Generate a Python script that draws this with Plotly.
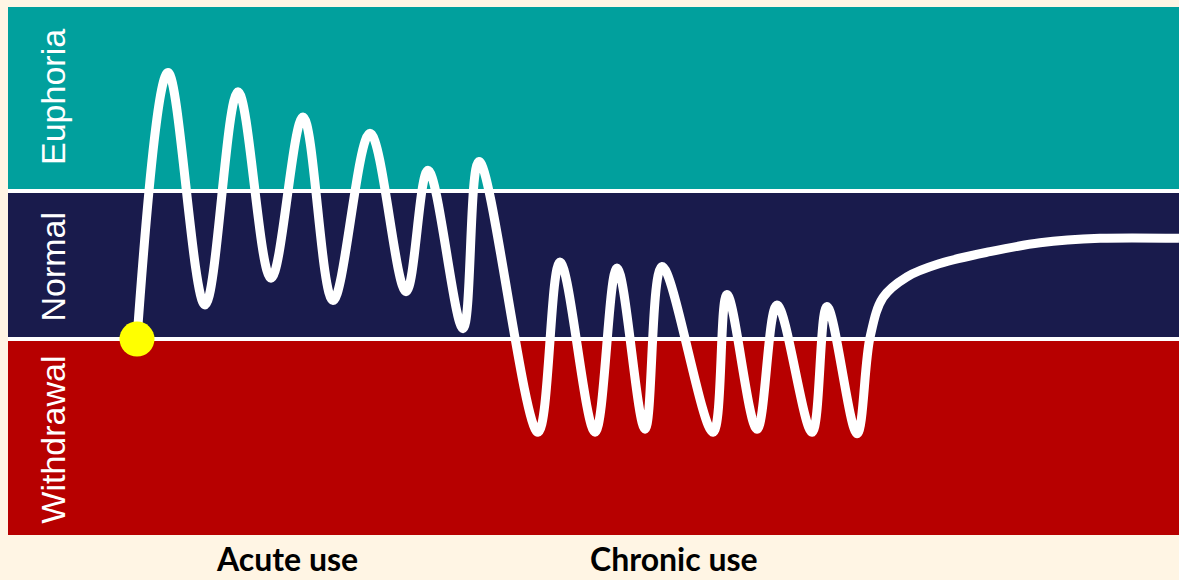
import plotly.graph_objects as go

# Time (arbitrary units) and mood level (0 = normal baseline, 1 = euphoria threshold)
time = [129, 160, 197, 230, 263, 295, 325, 362, 398, 420, 455, 471,
        530, 552, 587, 609, 637, 654, 705, 719, 749, 769, 804, 819, 849,
        862, 875, 899, 932, 982, 1032, 1092, 1171]
mood = [0.0, 1.80, 0.23, 1.67, 0.41, 1.50, 0.26, 1.39, 0.32, 1.14, 0.07, 1.20,
        -0.63, 0.52, -0.63, 0.48, -0.61, 0.49, -0.63, 0.30, -0.61, 0.23, -0.63, 0.22, -0.64,
        0.01, 0.28, 0.42, 0.51, 0.59, 0.65, 0.68, 0.68]

start_time = [129]
start_mood = [0.0]

zones = ["Euphoria", "Normal", "Withdrawal"]
zone_bounds = [(1.0, 2.243), (0.0, 1.0), (-1.324, 0.0)]
zone_colors = ["#01A09D", "#191B4C", "#B70000"]
zone_label_mood = [1.635, 0.49, -0.68]

phases = ["Acute use", "Chronic use"]
phase_time = [279, 666]

X_RANGE = [0, 1171]
Y_RANGE = [-1.324, 2.243]

fig = go.Figure()

for (lo, hi), col in zip(zone_bounds, zone_colors):
    fig.add_shape(type="rect", xref="x", yref="y", x0=X_RANGE[0], x1=X_RANGE[1],
                  y0=lo, y1=hi, fillcolor=col, line=dict(width=0), layer="below")

for lvl in [1.0, 0.0]:
    fig.add_shape(type="line", xref="x", yref="y", x0=X_RANGE[0], x1=X_RANGE[1],
                  y0=lvl, y1=lvl, line=dict(color="white", width=4), layer="below")

fig.add_trace(go.Scatter(x=time, y=mood, mode="lines",
                         line=dict(color="white", width=9, shape="spline", smoothing=1.0),
                         hoverinfo="skip", showlegend=False))
fig.add_trace(go.Scatter(x=start_time, y=start_mood, mode="markers",
                         marker=dict(color="#FFFF00", size=35, line=dict(width=0)),
                         hoverinfo="skip", showlegend=False))

for name, m in zip(zones, zone_label_mood):
    fig.add_annotation(x=45, y=m, xref="x", yref="y", text=name, textangle=-90,
                       showarrow=False,
                       font=dict(family="Liberation Sans, Arial, sans-serif",
                                 size=34, color="white"))

for name, t in zip(phases, phase_time):
    fig.add_annotation(x=t, y=-0.045, xref="x", yref="paper", text="<b>" + name + "</b>",
                       showarrow=False, yanchor="middle",
                       font=dict(family="Lato, Open Sans, sans-serif", size=32, color="black"))

fig.update_layout(
    width=1179, height=580,
    margin=dict(l=8, r=0, t=7, b=45),
    paper_bgcolor="#FFF5E4", plot_bgcolor="#FFF5E4",
    xaxis=dict(range=X_RANGE, visible=False, fixedrange=True),
    yaxis=dict(range=Y_RANGE, visible=False, fixedrange=True),
)

fig.write_html("out.html", config={"displayModeBar": False},
               post_script="document.body.style.margin='0';document.body.style.padding='0';"
                           "document.body.style.overflow='hidden';"
                           "document.documentElement.style.overflow='hidden';")
